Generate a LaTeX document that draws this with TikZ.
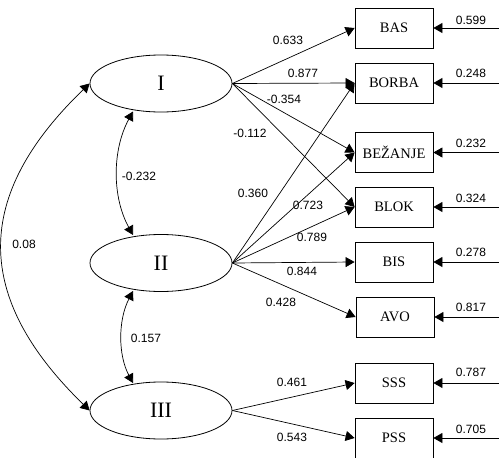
\documentclass[tikz,border=0pt]{standalone}
\usepackage{fontspec}
\setmainfont{Liberation Serif}
\newfontfamily\labfont{Liberation Sans}
\usetikzlibrary{arrows.meta,shapes.geometric}
\begin{document}
\begin{tikzpicture}[x=1pt,y=-1pt,
  tip/.style={-{Triangle[length=9pt,width=10pt]}},
  bitip/.style={{Triangle[length=9pt,width=10pt]}-{Triangle[length=9pt,width=10pt]}},
  lat/.style={ellipse,draw,line width=0.8pt,minimum width=142pt,minimum height=57pt,inner sep=0pt,font=\fontsize{22}{24}\selectfont},
  obs/.style={rectangle,draw,line width=0.8pt,minimum width=78pt,minimum height=40pt,inner sep=0pt,font=\fontsize{14.5}{16}\selectfont},
  lab/.style={inner sep=0pt,font=\labfont\fontsize{12}{13}\selectfont},
  edge/.style={line width=0.7pt}]
\useasboundingbox (0,0) rectangle (499,458);
% latent variables
\node[lat] (I) at (161,83.5) {I};
\node[lat] (II) at (161,263) {II};
\node[lat] (III) at (161,410.5) {III};
% observed
\node[obs] (BAS) at (394,28) {BAS};
\node[obs] (BORBA) at (394,83) {BORBA};
\node[obs] (BEZ) at (394,152.5) {BEŽANJE};
\node[obs] (BLOK) at (394,207) {BLOK};
\node[obs] (BIS) at (394,262) {BIS};
\node[obs] (AVO) at (395,317) {AVO};
\node[obs] (SSS) at (394,383) {SSS};
\node[obs] (PSS) at (394,438) {PSS};
% error sources
\coordinate (e1) at (499,28);
\coordinate (e2) at (499,83);
\coordinate (e3) at (499,152.5);
\coordinate (e4) at (499,207);
\coordinate (e5) at (499,262);
\coordinate (e6) at (499,317);
\coordinate (e7) at (499,383);
\coordinate (e8) at (499,438);
\foreach \e/\b in {e1/BAS,e2/BORBA,e3/BEZ,e4/BLOK,e5/BIS,e6/AVO,e7/SSS,e8/PSS}
  \draw[edge,tip] (\e) -- (\b.east);
% loadings
\foreach \b in {BAS,BORBA,BEZ,BLOK}
  \draw[edge,tip] (I.east) -- (\b.west);
\foreach \b in {BORBA,BEZ,BLOK,BIS,AVO}
  \draw[edge,tip] (II.east) -- (\b.west);
\foreach \b in {SSS,PSS}
  \draw[edge,tip] (III.east) -- (\b.west);
% correlations
\coordinate (Ib) at (133,111.5);
\coordinate (IIt) at (133,235);
\coordinate (IIb) at (133,291);
\coordinate (IIIt) at (133,383);
\draw[edge,bitip] (Ib) .. controls (112,150) and (112,197) .. (IIt);
\draw[edge,bitip] (IIb) .. controls (118,320) and (118,355) .. (IIIt);
\draw[edge,bitip] (I.west) .. controls (-27,196) and (-27,297) .. (III.west);
% labels
\node[lab] at (288,40) {0.633};
\node[lab] at (303,73) {0.877};
\node[lab] at (284,99) {-0.354};
\node[lab] at (250,133) {-0.112};
\node[lab] at (253,193) {0.360};
\node[lab] at (308,205) {0.723};
\node[lab] at (312,237) {0.789};
\node[lab] at (302,271) {0.844};
\node[lab] at (281,302) {0.428};
\node[lab] at (292,382) {0.461};
\node[lab] at (292,437) {0.543};
\node[lab] at (471,20) {0.599};
\node[lab] at (471,73) {0.248};
\node[lab] at (471,143) {0.232};
\node[lab] at (471,198) {0.324};
\node[lab] at (471,252) {0.278};
\node[lab] at (471,307) {0.817};
\node[lab] at (471,372) {0.787};
\node[lab] at (471,429) {0.705};
\node[lab] at (139,176) {-0.232};
\node[lab] at (146,338) {0.157};
\node[lab] at (24,244) {0.08};
\end{tikzpicture}
\end{document}
